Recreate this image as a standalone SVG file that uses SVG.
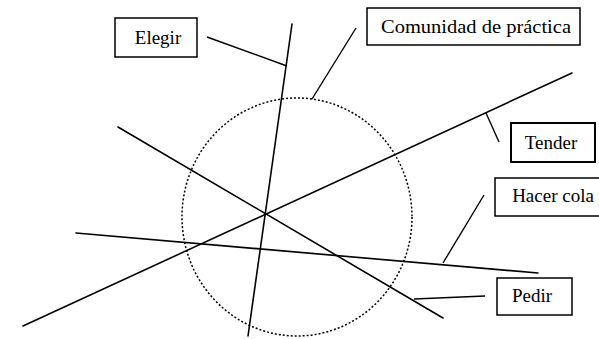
<svg xmlns="http://www.w3.org/2000/svg" width="599" height="339" viewBox="0 0 599 339">
<style>
.bg{fill:#fff}
.box{fill:#fff;stroke:#000;stroke-width:1.5}
.lbl{font-family:"Liberation Serif","Times New Roman",serif;font-size:19px;fill:#000;text-anchor:middle}
.ln{stroke:#000;stroke-width:1.6;fill:none;stroke-linecap:round}
.ld{stroke:#000;stroke-width:1.4;fill:none}
.dot{fill:none;stroke:#000;stroke-width:1.5;stroke-dasharray:2 2}
</style>
<rect class="bg" x="0" y="0" width="599" height="339"/>
<g id="circle">
<ellipse class="dot" cx="297" cy="217" rx="115" ry="119"/>
</g>
<g id="connectors">
<line class="ln" x1="292" y1="24" x2="248" y2="336"/>
<line class="ln" x1="118" y1="127" x2="443" y2="318"/>
<line class="ln" x1="23" y1="326" x2="572" y2="73"/>
<line class="ln" x1="76" y1="233" x2="538" y2="273"/>
<line class="ld" x1="207" y1="37" x2="287" y2="66"/>
<line class="ld" x1="356" y1="28" x2="312" y2="99"/>
<line class="ld" x1="486" y1="113" x2="499" y2="142"/>
<line class="ld" x1="484" y1="195" x2="443" y2="263"/>
<line class="ld" x1="485" y1="296" x2="414" y2="299"/>
</g>
<g id="elegir">
<rect class="box" x="115" y="18" width="82" height="39"/>
<text class="lbl" x="158" y="44">Elegir</text>
</g>
<g id="comunidad">
<rect class="box" x="367" y="8" width="213" height="37"/>
<text class="lbl" x="476" y="33" textLength="190" lengthAdjust="spacingAndGlyphs">Comunidad de práctica</text>
</g>
<g id="tender">
<rect class="box" x="511" y="123" width="84" height="39" style="stroke-width:2"/>
<text class="lbl" x="551" y="149">Tender</text>
</g>
<g id="hacer-cola">
<rect class="box" x="495" y="178" width="110" height="38"/>
<text class="lbl" x="553" y="202">Hacer cola</text>
</g>
<g id="pedir">
<rect class="box" x="497" y="278" width="75" height="37"/>
<text class="lbl" x="532" y="302">Pedir</text>
</g>
</svg>
